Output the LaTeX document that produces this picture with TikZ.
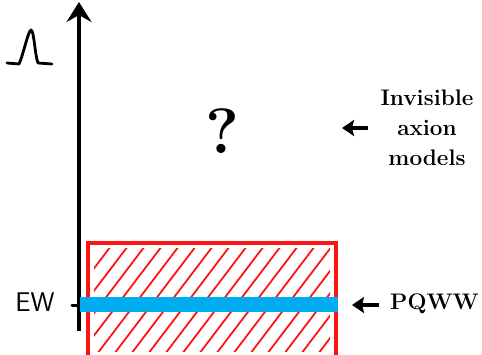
\documentclass[tikz,border=0pt]{standalone}
\usepackage{fontspec}
\usetikzlibrary{arrows.meta}
\definecolor{barblue}{RGB}{0,174,239}
\definecolor{hatchred}{RGB}{255,20,20}
\tikzset{
  axisline/.style={line width=4.4pt, -{Stealth[length=20pt,width=25pt,inset=7pt]}},
  redbox/.style={draw=hatchred, line width=3.2pt},
  hatch/.style={draw=hatchred, line width=1.8pt, line cap=round},
  sidearrow/.style={line width=3.4pt, -{Stealth[length=12pt,width=16pt,inset=2pt]}},
  lbl/.style={font=\bfseries\fontsize{22.5}{26}\selectfont, inner sep=0pt},
  hand/.style={line width=2.8pt, line cap=round, line join=round}
}
\begin{document}
\begin{tikzpicture}[x=1pt,y=-1pt]
\useasboundingbox (0,0) rectangle (482,355);
% hatching
\begin{scope}
  \clip (94,249) rectangle (330,352);
  \foreach \x in {12,29,...,340} {
    \draw[hatch] (\x,354) -- (\x+82,246);
  }
\end{scope}
% red box
\draw[redbox] (88,357) -- (88,243) -- (336,243) -- (336,357);
% axis
\coordinate (axb) at (79,331);
\coordinate (axt) at (79,2);
\draw[axisline] (axb) -- (axt);
% EW tick
\coordinate (tl) at (72,306);
\coordinate (tr) at (87,306);
\draw[line width=3pt, line cap=round] (tl) -- (tr);
% blue bar
\fill[barblue] (80,297.5) rectangle (338,312);
% peak symbol
\draw[hand] (7,63) -- (19,64) .. controls (23,56) and (28,31) .. (31,30)
  .. controls (34,30) and (35,56) .. (38,63) -- (52,64);
% labels
\node[inner sep=0pt] (q) at (222,131) {\bfseries\fontsize{64}{64}\selectfont ?};
\node[lbl] (l1) at (427,98) {Invisible};
\node[lbl] (l2) at (427,128) {axion};
\node[lbl] (l3) at (427,158) {models};
\node[lbl, anchor=west] (pq) at (390,304) {PQWW};
\node[inner sep=0pt, font=\sffamily\fontsize{27}{27}\selectfont] (ew) at (35,302) {EW};
% side arrows
\coordinate (a1s) at (368,128);
\coordinate (a1e) at (342,128);
\draw[sidearrow] (a1s) -- (a1e);
\coordinate (a2s) at (379,305);
\coordinate (a2e) at (352,305);
\draw[sidearrow] (a2s) -- (a2e);
\end{tikzpicture}
\end{document}
